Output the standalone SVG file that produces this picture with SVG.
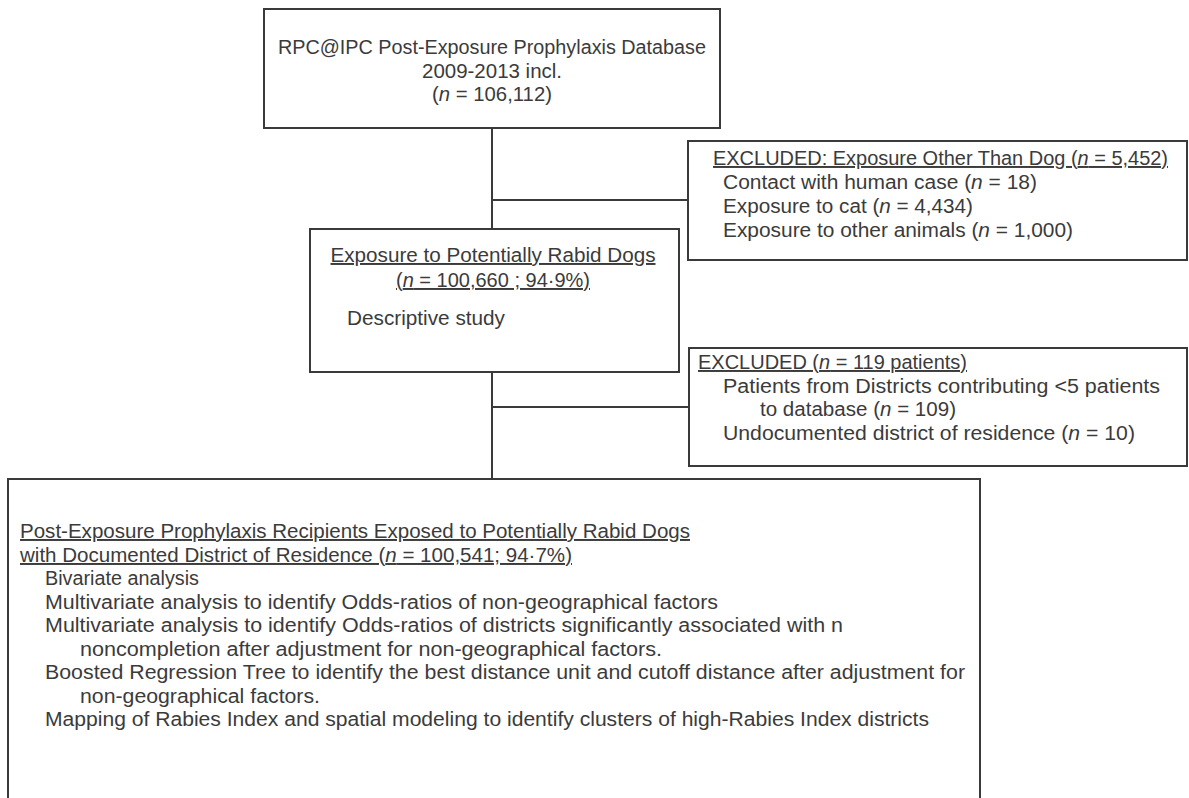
<svg xmlns="http://www.w3.org/2000/svg" width="1189" height="798" viewBox="0 0 1189 798">
<style>
.box{fill:#fff;stroke:#3a3a3a;stroke-width:2}
.t{font-family:"Liberation Sans",Arial,sans-serif;font-size:19.5px;fill:#3b3b3b}
.c{text-anchor:middle}
.u{text-decoration:underline}
.conn{stroke:#3a3a3a;stroke-width:2;fill:none}
</style>
<rect width="1189" height="798" fill="#fff"/>
<g id="connectors">
<line class="conn" x1="492" y1="128" x2="492" y2="479"/>
<line class="conn" x1="492" y1="200" x2="688" y2="200"/>
<line class="conn" x1="492" y1="407" x2="689" y2="407"/>
</g>
<g id="node-database">
<rect class="box" x="264" y="9" width="456" height="119"/>
<text class="t c" x="492" y="54" textLength="428" lengthAdjust="spacingAndGlyphs">RPC@IPC Post-Exposure Prophylaxis Database</text>
<text class="t c" x="492" y="78" textLength="140" lengthAdjust="spacingAndGlyphs">2009-2013 incl.</text>
<text class="t c" x="492" y="101" textLength="120" lengthAdjust="spacingAndGlyphs">(<tspan font-style="italic">n</tspan> = 106,112)</text>
</g>
<g id="node-excluded-other">
<rect class="box" x="688" y="141" width="499" height="119"/>
<text class="t u" x="713" y="165" textLength="455" lengthAdjust="spacingAndGlyphs">EXCLUDED: Exposure Other Than Dog (<tspan font-style="italic">n</tspan> = 5,452)</text>
<text class="t" x="723" y="189" textLength="314" lengthAdjust="spacingAndGlyphs">Contact with human case (<tspan font-style="italic">n</tspan> = 18)</text>
<text class="t" x="723" y="213" textLength="250" lengthAdjust="spacingAndGlyphs">Exposure to cat (<tspan font-style="italic">n</tspan> = 4,434)</text>
<text class="t" x="723" y="237" textLength="350" lengthAdjust="spacingAndGlyphs">Exposure to other animals (<tspan font-style="italic">n</tspan> = 1,000)</text>
</g>
<g id="node-dogs">
<rect class="box" x="310" y="229" width="369" height="143"/>
<text class="t c u" x="493" y="262" textLength="325" lengthAdjust="spacingAndGlyphs">Exposure to Potentially Rabid Dogs</text>
<text class="t c u" x="493" y="287" textLength="194" lengthAdjust="spacingAndGlyphs">(<tspan font-style="italic">n</tspan> = 100,660 ; 94·9%)</text>
<text class="t" x="347" y="325" textLength="158" lengthAdjust="spacingAndGlyphs">Descriptive study</text>
</g>
<g id="node-excluded-district">
<rect class="box" x="689" y="348" width="498" height="118"/>
<text class="t u" x="698" y="369" textLength="269" lengthAdjust="spacingAndGlyphs">EXCLUDED (<tspan font-style="italic">n</tspan> = 119 patients)</text>
<text class="t" x="723" y="393" textLength="437" lengthAdjust="spacingAndGlyphs">Patients from Districts contributing &lt;5 patients</text>
<text class="t" x="760" y="416" textLength="196" lengthAdjust="spacingAndGlyphs">to database (<tspan font-style="italic">n</tspan> = 109)</text>
<text class="t" x="723" y="440" textLength="412" lengthAdjust="spacingAndGlyphs">Undocumented district of residence (<tspan font-style="italic">n</tspan> = 10)</text>
</g>
<g id="node-recipients">
<rect class="box" x="8" y="479" width="972" height="330"/>
<text class="t u" x="20" y="538" textLength="670" lengthAdjust="spacingAndGlyphs">Post-Exposure Prophylaxis Recipients Exposed to Potentially Rabid Dogs</text>
<text class="t u" x="20" y="562" textLength="552" lengthAdjust="spacingAndGlyphs">with Documented District of Residence (<tspan font-style="italic">n</tspan> = 100,541; 94·7%)</text>
<text class="t" x="45" y="585" textLength="154" lengthAdjust="spacingAndGlyphs">Bivariate analysis</text>
<text class="t" x="45" y="609" textLength="673" lengthAdjust="spacingAndGlyphs">Multivariate analysis to identify Odds-ratios of non-geographical factors</text>
<text class="t" x="45" y="632" textLength="798" lengthAdjust="spacingAndGlyphs">Multivariate analysis to identify Odds-ratios of districts significantly associated with n</text>
<text class="t" x="80" y="656" textLength="582" lengthAdjust="spacingAndGlyphs">noncompletion after adjustment for non-geographical factors.</text>
<text class="t" x="45" y="679" textLength="920" lengthAdjust="spacingAndGlyphs">Boosted Regression Tree to identify the best distance unit and cutoff distance after adjustment for</text>
<text class="t" x="80" y="703" textLength="240" lengthAdjust="spacingAndGlyphs">non-geographical factors.</text>
<text class="t" x="45" y="726" textLength="884" lengthAdjust="spacingAndGlyphs">Mapping of Rabies Index and spatial modeling to identify clusters of high-Rabies Index districts</text>
</g>
</svg>
